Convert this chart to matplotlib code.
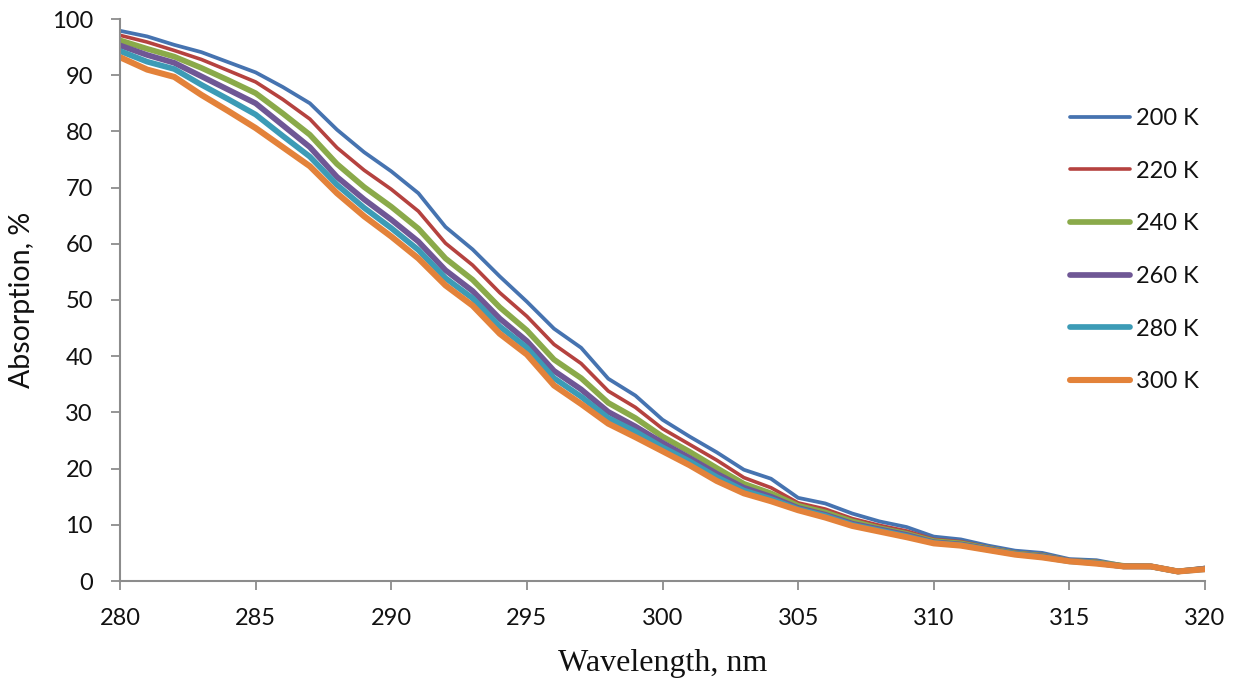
#!/usr/bin/env python3
"""
Absorption spectra vs temperature (280-320 nm).
"""
import numpy as np
import matplotlib
matplotlib.use("Agg")
import matplotlib.pyplot as plt

# --- Data (1 nm step) ---
wavelength = np.arange(280, 321, 1)

abs_200K = [97.9, 96.9, 95.4, 94.1, 92.3, 90.5, 87.9, 85.0, 80.3, 76.3,
            72.9, 69.0, 63.0, 59.0, 54.2, 49.7, 44.9, 41.5, 36.0, 33.0,
            28.7, 25.7, 22.9, 19.8, 18.2, 14.8, 13.8, 12.0, 10.6, 9.6,
            7.9, 7.4, 6.3, 5.4, 5.0, 3.9, 3.7, 2.8, 2.7, 1.7, 2.4]
abs_220K = [97.1, 95.9, 94.4, 92.8, 90.8, 88.8, 85.7, 82.2, 77.1, 73.1,
            69.7, 65.8, 60.1, 56.2, 51.3, 47.1, 42.1, 38.7, 33.8, 30.9,
            27.1, 24.3, 21.5, 18.4, 16.6, 13.9, 12.8, 11.1, 9.9, 8.9,
            7.4, 7.0, 6.0, 5.1, 4.7, 3.7, 3.5, 2.7, 2.7, 1.7, 2.3]
abs_240K = [96.2, 94.7, 93.3, 91.3, 89.1, 86.8, 83.2, 79.4, 74.2, 70.1,
            66.6, 62.7, 57.4, 53.6, 48.7, 44.6, 39.4, 36.1, 31.7, 29.0,
            25.7, 23.0, 20.1, 17.3, 15.6, 13.4, 12.2, 10.6, 9.4, 8.4,
            7.1, 6.7, 5.8, 4.9, 4.5, 3.6, 3.3, 2.7, 2.6, 1.7, 2.2]
abs_260K = [95.3, 93.6, 92.2, 89.8, 87.4, 85.0, 81.1, 77.2, 71.9, 67.9,
            64.3, 60.4, 55.3, 51.6, 46.7, 42.7, 37.4, 34.1, 30.1, 27.5,
            24.6, 21.9, 19.1, 16.6, 15.0, 13.0, 11.8, 10.2, 9.2, 8.2,
            6.9, 6.5, 5.7, 4.8, 4.4, 3.6, 3.2, 2.6, 2.6, 1.7, 2.2]
abs_280K = [94.3, 92.4, 91.1, 88.3, 85.7, 83.0, 79.2, 75.5, 70.5, 66.4,
            62.8, 58.9, 53.9, 50.3, 45.3, 41.5, 36.1, 32.8, 29.0, 26.6,
            23.8, 21.3, 18.5, 16.1, 14.6, 12.8, 11.6, 10.0, 9.0, 8.0,
            6.8, 6.4, 5.6, 4.8, 4.3, 3.5, 3.2, 2.6, 2.6, 1.7, 2.1]
abs_300K = [93.2, 91.0, 89.7, 86.5, 83.6, 80.6, 77.2, 73.8, 69.0, 64.9,
            61.3, 57.4, 52.6, 49.0, 44.0, 40.3, 34.8, 31.5, 28.0, 25.6,
            23.1, 20.6, 17.8, 15.6, 14.2, 12.6, 11.3, 9.8, 8.8, 7.8,
            6.7, 6.3, 5.5, 4.7, 4.2, 3.5, 3.1, 2.6, 2.6, 1.7, 2.1]

labels = ['200 K', '220 K', '240 K', '260 K', '280 K', '300 K']
series = [abs_200K, abs_220K, abs_240K, abs_260K, abs_280K, abs_300K]
colors = ['#4673B0', '#B5423F', '#8AAA4A', '#6F5795', '#3C9BB6', '#E3823A']
widths = [2.7, 2.6, 4.1, 4.1, 4.1, 4.4]

x_ticks = [280, 285, 290, 295, 300, 305, 310, 315, 320]
y_ticks = [0, 10, 20, 30, 40, 50, 60, 70, 80, 90, 100]

SANS = ['Lato', 'DejaVu Sans']
GRAY = '#8c8c8c'

fig = plt.figure(figsize=(12.38, 6.8), dpi=100)
ax = fig.add_axes([120 / 1238, 1 - 581 / 680, (1205 - 120) / 1238, (581 - 19) / 680])

for y, lab, c, lw in zip(series, labels, colors, widths):
    ax.plot(wavelength, y, color=c, linewidth=lw, label=lab,
            solid_capstyle='round', solid_joinstyle='round')

ax.set_xlim(280, 320)
ax.set_ylim(0, 100)
ax.set_xticks(x_ticks)
ax.set_yticks(y_ticks)

for s in ['top', 'right']:
    ax.spines[s].set_visible(False)
for s in ['left', 'bottom']:
    ax.spines[s].set_color(GRAY)
    ax.spines[s].set_linewidth(1.5)

ax.tick_params(axis='both', direction='out', length=6.5, width=1.3, color=GRAY,
               labelsize=17, pad=13)
for t in ax.get_xticklabels() + ax.get_yticklabels():
    t.set_family(SANS)
    t.set_color('#111111')

ax.set_xlabel('Wavelength, nm', family=['Liberation Serif', 'DejaVu Serif'],
              fontsize=23, color='#111111', labelpad=14)
ax.set_ylabel('Absorption, %', family=SANS, fontsize=20.5, color='#111111',
              labelpad=12)

leg = ax.legend(loc='upper left', bbox_to_anchor=(1070 / 1238, 1 - 108 / 680),
                bbox_transform=fig.transFigure, frameon=False,
                prop={'family': SANS, 'size': 17}, handlelength=2.55,
                handletextpad=0.25, labelspacing=1.34, borderpad=0,
                borderaxespad=0)
for t in leg.get_texts():
    t.set_color('#111111')

fig.savefig('out.png', dpi=100)
